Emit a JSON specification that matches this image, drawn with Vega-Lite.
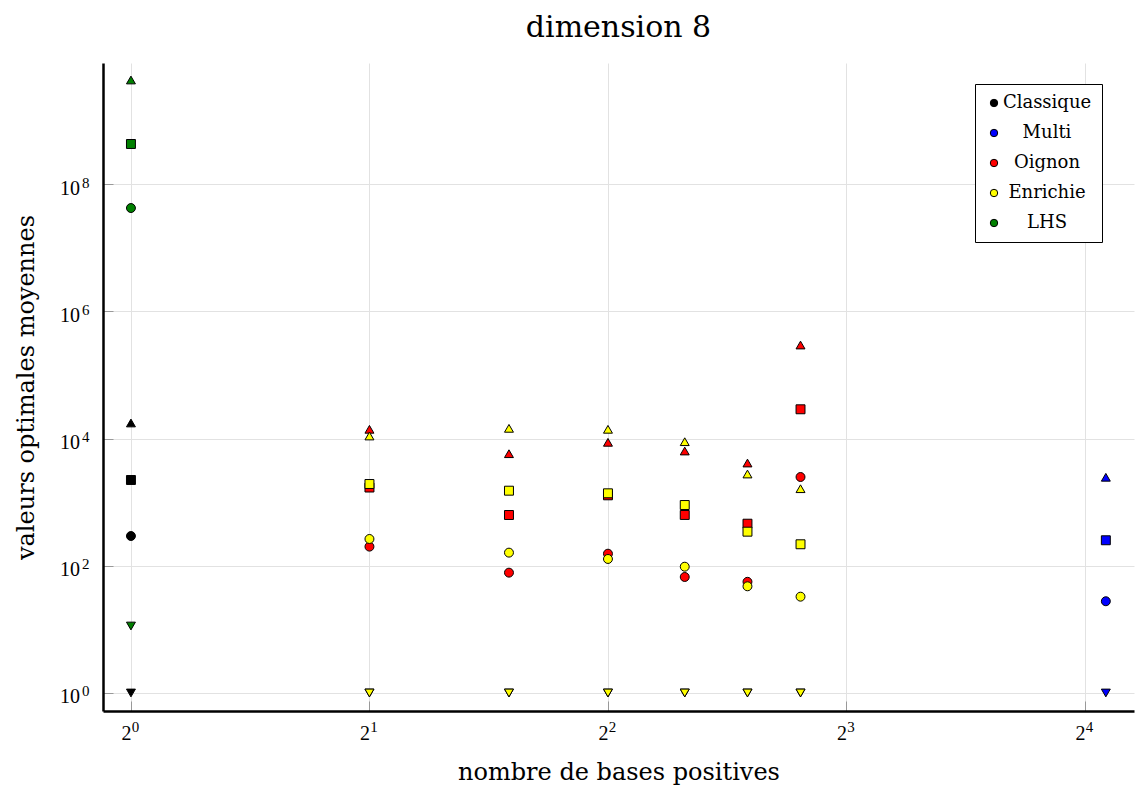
{
  "$schema": "https://vega.github.io/schema/vega-lite/v6.json",
  "autosize": "none",
  "width": 1031,
  "height": 648,
  "padding": {"left": 103, "top": 63, "right": 2, "bottom": 81},
  "background": "white",
  "title": {"text": "dimension 8", "font": "DejaVu Serif", "fontSize": 30, "fontWeight": "normal", "anchor": "middle", "offset": 20, "color": "black"},
  "config": {
    "view": {"stroke": null},
    "font": "DejaVu Serif"
  },
  "data": {"values": [
    {"x": 1, "y": 17600, "m": "Classique", "s": "haut"},
    {"x": 1, "y": 2234, "m": "Classique", "s": "carre"},
    {"x": 1, "y": 294, "m": "Classique", "s": "rond"},
    {"x": 1, "y": 1, "m": "Classique", "s": "bas"},
    {"x": 17, "y": 2465, "m": "Multi", "s": "haut"},
    {"x": 17, "y": 252, "m": "Multi", "s": "carre"},
    {"x": 17, "y": 27.7, "m": "Multi", "s": "rond"},
    {"x": 17, "y": 1, "m": "Multi", "s": "bas"},
    {"x": 2, "y": 14000, "m": "Oignon", "s": "haut"},
    {"x": 2, "y": 1700, "m": "Oignon", "s": "carre"},
    {"x": 2, "y": 200, "m": "Oignon", "s": "rond"},
    {"x": 2, "y": 1, "m": "Oignon", "s": "bas"},
    {"x": 3, "y": 5790, "m": "Oignon", "s": "haut"},
    {"x": 3, "y": 629, "m": "Oignon", "s": "carre"},
    {"x": 3, "y": 78, "m": "Oignon", "s": "rond"},
    {"x": 3, "y": 1, "m": "Oignon", "s": "bas"},
    {"x": 4, "y": 8740, "m": "Oignon", "s": "haut"},
    {"x": 4, "y": 1283, "m": "Oignon", "s": "carre"},
    {"x": 4, "y": 155, "m": "Oignon", "s": "rond"},
    {"x": 4, "y": 1, "m": "Oignon", "s": "bas"},
    {"x": 5, "y": 6380, "m": "Oignon", "s": "haut"},
    {"x": 5, "y": 630, "m": "Oignon", "s": "carre"},
    {"x": 5, "y": 66.7, "m": "Oignon", "s": "rond"},
    {"x": 5, "y": 1, "m": "Oignon", "s": "bas"},
    {"x": 6, "y": 4130, "m": "Oignon", "s": "haut"},
    {"x": 6, "y": 459, "m": "Oignon", "s": "carre"},
    {"x": 6, "y": 56, "m": "Oignon", "s": "rond"},
    {"x": 6, "y": 1, "m": "Oignon", "s": "bas"},
    {"x": 7, "y": 296000, "m": "Oignon", "s": "haut"},
    {"x": 7, "y": 28900, "m": "Oignon", "s": "carre"},
    {"x": 7, "y": 2489, "m": "Oignon", "s": "rond"},
    {"x": 7, "y": 1, "m": "Oignon", "s": "bas"},
    {"x": 2, "y": 10990, "m": "Enrichie", "s": "haut"},
    {"x": 2, "y": 1932, "m": "Enrichie", "s": "carre"},
    {"x": 2, "y": 264, "m": "Enrichie", "s": "rond"},
    {"x": 2, "y": 1, "m": "Enrichie", "s": "bas"},
    {"x": 3, "y": 14500, "m": "Enrichie", "s": "haut"},
    {"x": 3, "y": 1517, "m": "Enrichie", "s": "carre"},
    {"x": 3, "y": 161, "m": "Enrichie", "s": "rond"},
    {"x": 3, "y": 1, "m": "Enrichie", "s": "bas"},
    {"x": 4, "y": 14000, "m": "Enrichie", "s": "haut"},
    {"x": 4, "y": 1380, "m": "Enrichie", "s": "carre"},
    {"x": 4, "y": 128, "m": "Enrichie", "s": "rond"},
    {"x": 4, "y": 1, "m": "Enrichie", "s": "bas"},
    {"x": 5, "y": 8940, "m": "Enrichie", "s": "haut"},
    {"x": 5, "y": 903, "m": "Enrichie", "s": "carre"},
    {"x": 5, "y": 96.8, "m": "Enrichie", "s": "rond"},
    {"x": 5, "y": 1, "m": "Enrichie", "s": "bas"},
    {"x": 6, "y": 2775, "m": "Enrichie", "s": "haut"},
    {"x": 6, "y": 344, "m": "Enrichie", "s": "carre"},
    {"x": 6, "y": 47.6, "m": "Enrichie", "s": "rond"},
    {"x": 6, "y": 1, "m": "Enrichie", "s": "bas"},
    {"x": 7, "y": 1630, "m": "Enrichie", "s": "haut"},
    {"x": 7, "y": 218, "m": "Enrichie", "s": "carre"},
    {"x": 7, "y": 32.7, "m": "Enrichie", "s": "rond"},
    {"x": 7, "y": 1, "m": "Enrichie", "s": "bas"},
    {"x": 1, "y": 4350000000, "m": "LHS", "s": "haut"},
    {"x": 1, "y": 429000000, "m": "LHS", "s": "carre"},
    {"x": 1, "y": 42200000, "m": "LHS", "s": "rond"},
    {"x": 1, "y": 11.3, "m": "LHS", "s": "bas"}
  ]},
  "resolve": {"axis": {"x": "independent", "y": "independent"}},
  "layer": [
    {
      "mark": {"type": "point", "opacity": 0, "size": 1},
      "encoding": {
        "x": {
          "field": "x", "type": "quantitative",
          "scale": {"type": "log", "base": 2, "domain": [0.922, 18.45], "nice": false, "zero": false},
          "axis": {
            "orient": "bottom", "title": null, "domain": false, "grid": false,
            "values": [1, 2, 4, 8, 16],
            "labelExpr": "datum.value == 1 ? '0' : datum.value == 2 ? '1' : datum.value == 4 ? '2' : datum.value == 8 ? '3' : '4'",
            "labelFont": "Liberation Serif", "labelFontSize": 15, "labelColor": "black",
            "labelBaseline": "alphabetic", "labelAlign": "center", "labelPadding": 30, "labelOffset": 4,
            "ticks": true, "tickColor": "#999999", "tickSize": -10, "tickWidth": 1
          }
        },
        "y": {
          "field": "y", "type": "quantitative",
          "scale": {"type": "log", "domain": [0.521, 8050000000], "nice": false, "zero": false},
          "axis": {
            "orient": "left", "title": null, "domain": false, "grid": false,
            "values": [1, 100, 10000, 1000000, 100000000],
            "labelExpr": "datum.value == 1 ? '0' : datum.value == 100 ? '2' : datum.value == 10000 ? '4' : datum.value == 1000000 ? '6' : '8'",
            "labelFont": "Liberation Serif", "labelFontSize": 15, "labelColor": "black",
            "labelBaseline": "alphabetic", "labelAlign": "right", "labelPadding": 24, "labelOffset": 3,
            "ticks": true, "tickColor": "#999999", "tickSize": -10, "tickWidth": 1
          }
        }
      }
    },
    {
      "mark": {"type": "point", "filled": true, "stroke": "black", "strokeWidth": 1, "size": 80, "opacity": 1, "strokeOpacity": 1},
      "encoding": {
        "x": {
          "field": "x", "type": "quantitative",
          "scale": {"type": "log", "base": 2, "domain": [0.922, 18.45], "nice": false, "zero": false},
          "axis": {
            "orient": "bottom",
            "title": "nombre de bases positives",
            "titleFont": "DejaVu Serif", "titleFontSize": 24, "titleFontWeight": "normal", "titleColor": "black", "titlePadding": 17,
            "values": [1, 2, 4, 8, 16],
            "labelExpr": "'2'",
            "labelFont": "Liberation Serif", "labelFontSize": 20, "labelColor": "black",
            "labelBaseline": "alphabetic", "labelAlign": "center", "labelPadding": 28, "labelOffset": -5,
            "grid": true, "gridColor": "#e2e2e2", "gridWidth": 1,
            "domainColor": "black", "domainWidth": 2.5,
            "ticks": false
          }
        },
        "y": {
          "field": "y", "type": "quantitative",
          "scale": {"type": "log", "domain": [0.521, 8050000000], "nice": false, "zero": false},
          "axis": {
            "orient": "left",
            "title": "valeurs optimales moyennes",
            "titleFont": "DejaVu Serif", "titleFontSize": 24, "titleFontWeight": "normal", "titleColor": "black", "titlePadding": 21,
            "values": [1, 100, 10000, 1000000, 100000000],
            "labelExpr": "'10'",
            "labelFont": "Liberation Serif", "labelFontSize": 20, "labelColor": "black",
            "labelBaseline": "alphabetic", "labelAlign": "right", "labelPadding": 23.5, "labelOffset": 10,
            "grid": true, "gridColor": "#e2e2e2", "gridWidth": 1,
            "domainColor": "black", "domainWidth": 2.5,
            "ticks": false
          }
        },
        "color": {
          "field": "m", "type": "nominal",
          "scale": {"domain": ["Classique", "Multi", "Oignon", "Enrichie", "LHS"], "range": ["#000000", "#0000ff", "#ff0000", "#ffff00", "#008000"]},
          "legend": {
            "title": null, "orient": "none", "legendX": 872, "legendY": 21,
            "symbolType": "circle", "symbolSize": 55, "symbolStrokeColor": "black", "symbolStrokeWidth": 1, "symbolFillColor": null,
            "labelFont": "DejaVu Serif", "labelFontSize": 18, "labelColor": "black",
            "labelAlign": "center", "labelOffset": 44, "labelLimit": 200,
            "rowPadding": 12, "padding": 10,
            "strokeColor": "black", "fillColor": "white",
            "encode": {"legend": {"update": {"strokeWidth": {"value": 2.5}}}}
          }
        },
        "shape": {
          "field": "s", "type": "nominal",
          "scale": {"domain": ["rond", "carre", "haut", "bas"], "range": ["circle", "square", "triangle-up", "triangle-down"]},
          "legend": null
        }
      }
    }
  ]
}
